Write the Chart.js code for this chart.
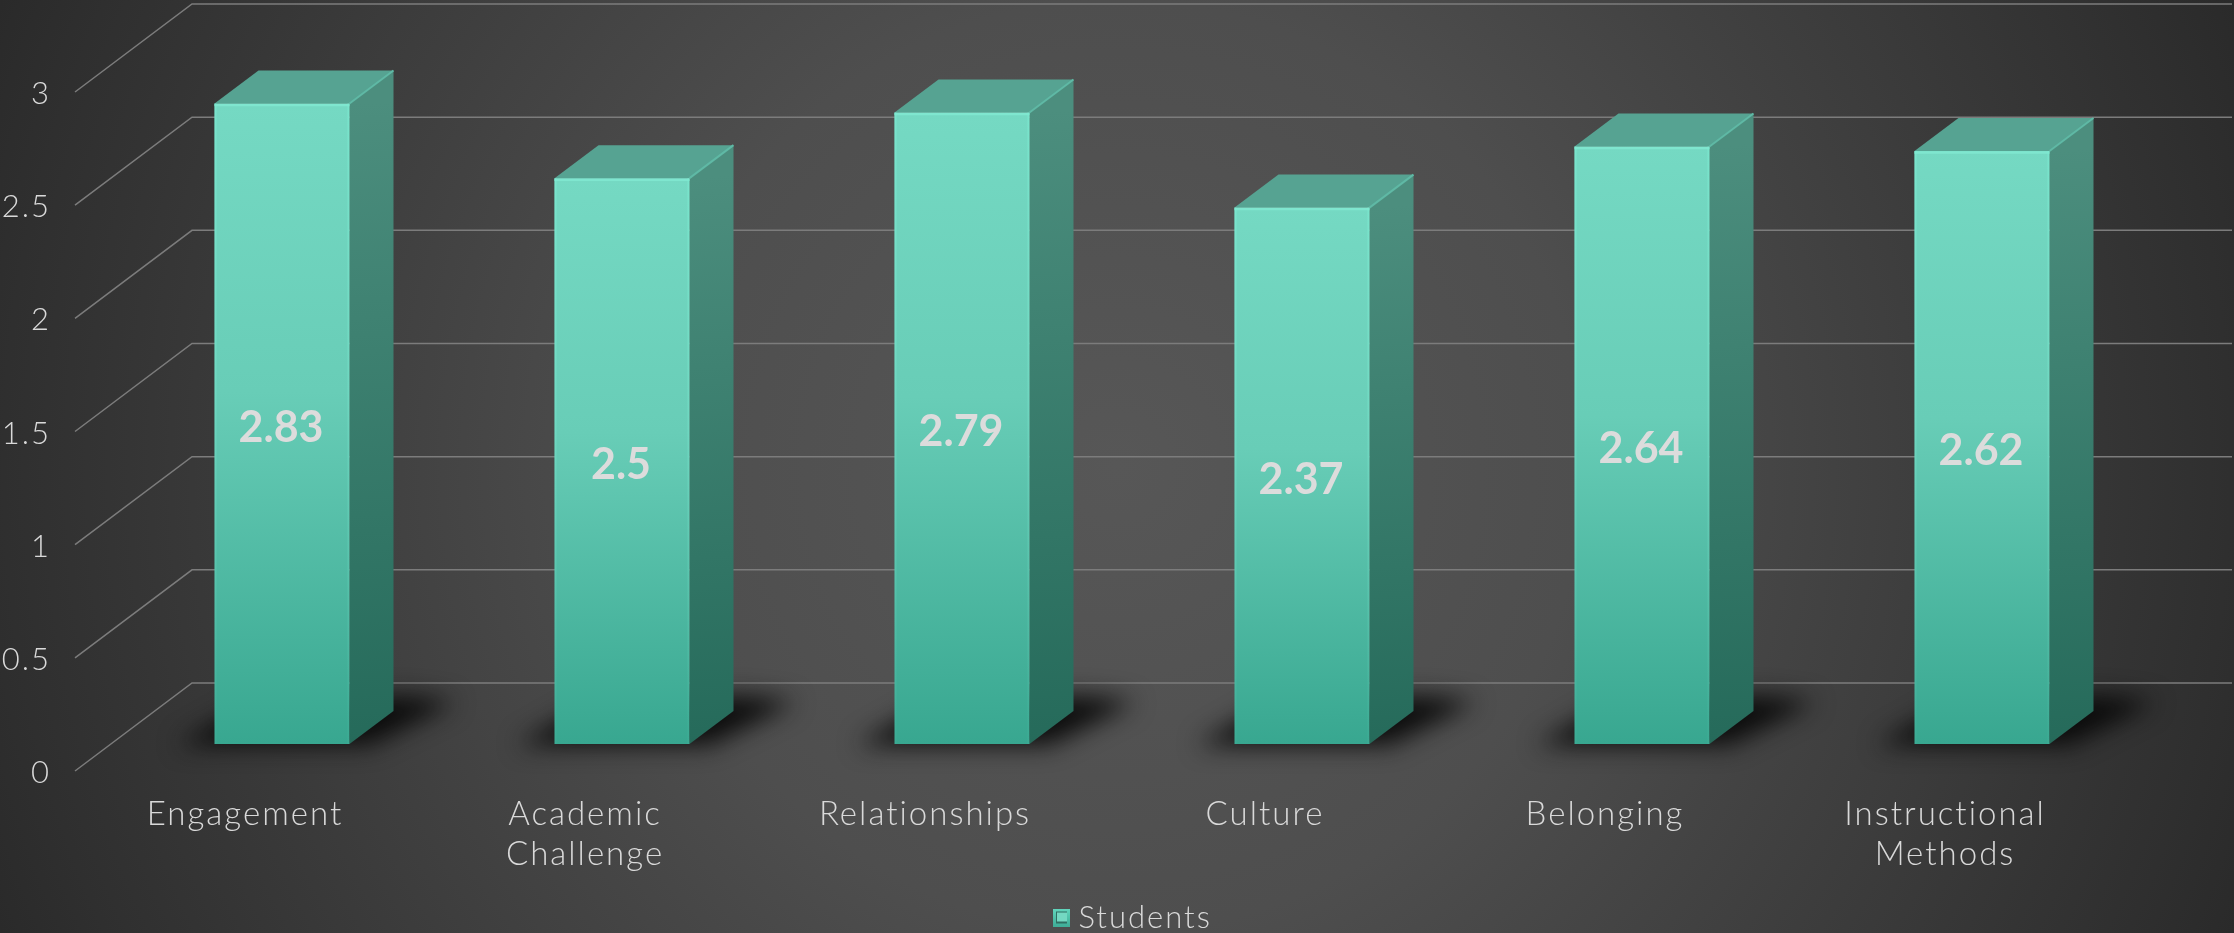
<!DOCTYPE html>
<html><head><meta charset="utf-8">
<style>html,body{margin:0;padding:0;background:#333}canvas{display:block}</style>
<script src="https://cdn.jsdelivr.net/npm/chart.js@4"></script></head>
<body><canvas id="c" width="2234" height="933"></canvas>
<script>
const categories = [["Engagement"], ["Academic","Challenge"], ["Relationships"], ["Culture"], ["Belonging"], ["Instructional","Methods"]];
const students = [2.83, 2.5, 2.79, 2.37, 2.64, 2.62];
const seriesName = "Students";

const FONT = 'Lato';
const TEXT = '#d9d9d9';
const BAR_OFF = {x:37, y:-27};
const DEPTH = {x:44, y:-33};
const WALL = {x:117, y:-88};

function swatch(){
  const c=document.createElement('canvas');c.width=24;c.height=18;
  const g=c.getContext('2d');
  const l=g.createLinearGradient(0,0,0,18);l.addColorStop(0,'#62d6bd');l.addColorStop(1,'#3fae98');
  g.fillStyle=l;g.fillRect(7,0,17,18);
  g.fillStyle='#2f6f62';g.fillRect(10,3,11,12);
  g.fillStyle='#74d8c2';g.fillRect(11,4,10,9);
  return c;
}
const plugin3d={
  id:'depth3d',
  afterLayout(chart){
    const L=chart.legend;
    L.left=1053;L.right=1300;L.top=902;L.bottom=933;L.width=247;L.height=31;
  },
  beforeDraw(chart){
    const {ctx,width,height}=chart;
    const g=ctx.createRadialGradient(1117,466,0,1117,466,1210);
    g.addColorStop(0,'#575757');g.addColorStop(.385,'#4e4e4e');g.addColorStop(.92,'#2f2f2f');g.addColorStop(1,'#2a2a2a');
    ctx.fillStyle=g;ctx.fillRect(0,0,width,height);
    ctx.letterSpacing='2px';
  },
  beforeDatasetsDraw(chart){
    const {ctx,scales:{x,y},chartArea}=chart;
    ctx.save();
    ctx.strokeStyle='#7c7c7c';ctx.lineWidth=1.5;
    y.ticks.forEach(t=>{
      const py=y.getPixelForValue(t.value), l=chartArea.left;
      ctx.beginPath();ctx.moveTo(l,py);ctx.lineTo(l+WALL.x,py+WALL.y);ctx.lineTo(chart.width-2,py+WALL.y);ctx.stroke();
    });
    const meta=chart.getDatasetMeta(0);
    // floor shadows
    meta.data.forEach(b=>{
      const lx=b.x-b.width/2+BAR_OFF.x, rx=lx+b.width, by=b.base+BAR_OFF.y;
      ctx.save();
      ctx.filter='blur(12px)';
      ctx.fillStyle='rgba(8,8,8,.95)';
      ctx.beginPath();
      ctx.moveTo(lx-38,by+1);ctx.lineTo(rx+20,by+1);ctx.lineTo(rx+106,by-42);ctx.lineTo(rx+60,by-48);ctx.lineTo(lx+50,by-48);ctx.closePath();ctx.fill();
      ctx.restore();
    });
    // side and top faces
    meta.data.forEach(b=>{
      const lx=b.x-b.width/2+BAR_OFF.x, rx=lx+b.width, ty=b.y+BAR_OFF.y, by=b.base+BAR_OFF.y;
      const sg=ctx.createLinearGradient(rx,ty,rx+DEPTH.x,by);
      sg.addColorStop(0,'#4c8e7e');sg.addColorStop(1,'#256a5a');
      ctx.fillStyle=sg;
      ctx.beginPath();ctx.moveTo(rx,ty);ctx.lineTo(rx+DEPTH.x,ty+DEPTH.y);ctx.lineTo(rx+DEPTH.x,by+DEPTH.y);ctx.lineTo(rx,by);ctx.closePath();ctx.fill();
      ctx.fillStyle='#56a392';
      ctx.beginPath();ctx.moveTo(lx,ty);ctx.lineTo(lx+DEPTH.x,ty+DEPTH.y);ctx.lineTo(rx+DEPTH.x,ty+DEPTH.y);ctx.lineTo(rx,ty);ctx.closePath();ctx.fill();
      ctx.strokeStyle='#5fb9a5';ctx.lineWidth=2;
      ctx.beginPath();ctx.moveTo(rx,ty);ctx.lineTo(rx+DEPTH.x,ty+DEPTH.y);ctx.stroke();
    });
    ctx.restore();
    ctx.save();
    ctx.translate(BAR_OFF.x,BAR_OFF.y);
  },
  afterDatasetsDraw(chart){
    const {ctx}=chart;
    ctx.restore();
    const meta=chart.getDatasetMeta(0);
    ctx.save();
    ctx.letterSpacing='0px';
    meta.data.forEach((b,i)=>{
      const lx=b.x-b.width/2+BAR_OFF.x, rx=lx+b.width, ty=b.y+BAR_OFF.y, by=b.base+BAR_OFF.y;
      ctx.strokeStyle='#7fe6cf';ctx.lineWidth=2.5;
      ctx.beginPath();ctx.moveTo(lx,ty+1.5);ctx.lineTo(rx,ty+1.5);ctx.stroke();
      const e=ctx.createLinearGradient(0,ty,0,by);
      e.addColorStop(0,'rgba(125,235,210,.6)');e.addColorStop(.6,'rgba(125,235,210,.25)');e.addColorStop(1,'rgba(125,235,210,.05)');
      ctx.strokeStyle=e;ctx.lineWidth=2;
      ctx.beginPath();ctx.moveTo(rx-1,ty);ctx.lineTo(rx-1,by);ctx.moveTo(lx+1,ty);ctx.lineTo(lx+1,by);ctx.stroke();
      ctx.font='bold 43px '+FONT;
      ctx.fillStyle='#dcdcdc';ctx.textAlign='center';ctx.textBaseline='middle';
      ctx.fillText(String(students[i]),b.x+BAR_OFF.x-1,(ty+by)/2+4);
    });
    ctx.restore();
  }
};
new Chart(document.getElementById('c'),{
  type:'bar',
  data:{labels:categories,datasets:[{
    label:seriesName,data:students,
    categoryPercentage:1,barPercentage:0.397,clip:false,
    backgroundColor(c){
      const ch=c.chart, y=ch.scales.y;
      if(!y||c.raw===undefined)return '#5cc9b1';
      const g=ch.ctx.createLinearGradient(0,y.getPixelForValue(c.raw),0,y.getPixelForValue(0));
      g.addColorStop(0,'#75d9c3');g.addColorStop(.45,'#68cdb7');g.addColorStop(1,'#38a790');
      return g;
    }
  }]},
  plugins:[plugin3d],
  options:{
    responsive:false,animation:false,
    layout:{padding:{left:0,right:119,top:92,bottom:0}},
    plugins:{
      tooltip:{enabled:false},
      legend:{
        position:'chartArea',align:'start',
        labels:{
          color:TEXT,font:{family:FONT,weight:'300',size:31},usePointStyle:true,boxWidth:10,boxHeight:18,padding:0,
          generateLabels(ch){return [{text:ch.data.datasets[0].label,pointStyle:swatch(),fontColor:TEXT,lineWidth:0,datasetIndex:0,hidden:false}];}
        }
      }
    },
    scales:{
      x:{
        grid:{display:false},border:{display:false},
        afterFit(s){s.height=162;},
        ticks:{color:TEXT,font:{family:FONT,weight:'300',size:33,lineHeight:1.21},padding:15,maxRotation:0,autoSkip:false}
      },
      y:{
        min:0,max:3,
        grid:{display:false},border:{display:false},
        afterFit(s){s.width=75;},
        ticks:{stepSize:0.5,color:TEXT,font:{family:FONT,weight:'300',size:31},padding:16,labelOffset:2,callback:v=>String(v)}
      }
    }
  }
});
</script></body></html>
